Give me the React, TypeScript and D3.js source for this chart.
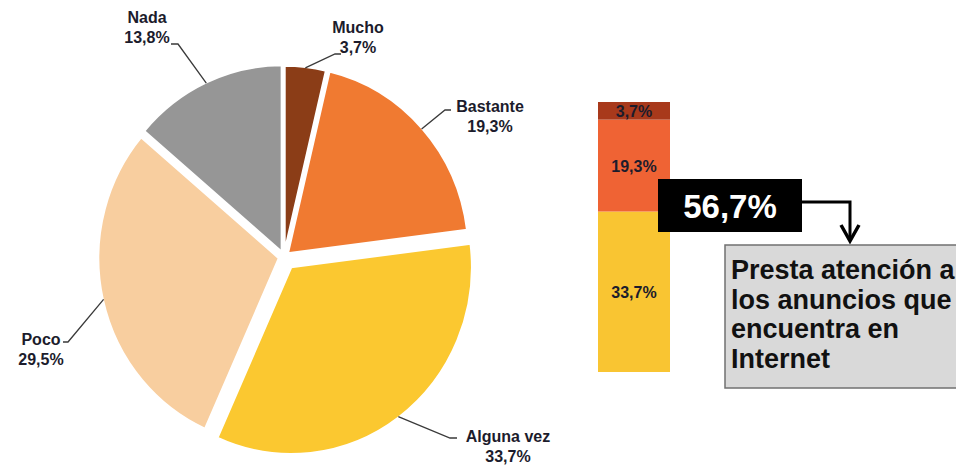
import React from "react";
import * as d3 from "d3";

const categories = ["Mucho", "Bastante", "Alguna vez", "Poco", "Nada"];
const values = [3.7, 19.3, 33.7, 29.5, 13.8];
const valueLabels = ["3,7%", "19,3%", "33,7%", "29,5%", "13,8%"];
const pieColors = ["#8B3D17", "#F07A31", "#FBC830", "#F8CE9F", "#969696"];

const barCategories = ["Alguna vez", "Bastante", "Mucho"];
const barValues = [33.7, 19.3, 3.7];
const barLabels = ["33,7%", "19,3%", "3,7%"];
const barColors = ["#F9C532", "#EF6334", "#A8391B"];
const totalLabel = "56,7%";
const calloutLines = ["Presta atención a", "los anuncios que", "encuentra en", "Internet"];

// layout
const W = 956, H = 465;
const cx = 284, cy = 257, R = 181, SY = 1.035;
const explode = [4, 5, 12, 5, 5];
const labelPos = [
  { x: 358, y: 33, elbow: [335, 54], end: [341, 54] },
  { x: 490, y: 112, elbow: [445, 110], end: [451, 110] },
  { x: 508, y: 442, elbow: [450, 438], end: [457, 438] },
  { x: 41, y: 345, elbow: [68, 342], end: [63, 342] },
  { x: 147, y: 23, elbow: [178, 44], end: [171, 44] },
];
const textColor = "#1c1c2c";
const font = "'Liberation Sans', Arial, sans-serif";

export default function App() {
  const pie = d3.pie<number>().sort(null).value((d) => d)(values);
  const arc = d3.arc<d3.PieArcDatum<number>>().innerRadius(0).outerRadius(R);

  const y = d3.scaleLinear().domain([0, d3.sum(barValues)]).range([372, 102]);
  const cum = barValues.map((_, i) => d3.sum(barValues.slice(0, i)));
  const barX = 598, barW = 72;

  return (
    <svg width={W} height={H} style={{ position: "absolute", left: 0, top: 0, background: "#fff" }} fontFamily={font}>
      <g transform={`translate(${cx},${cy}) scale(1,${SY})`}>
        {pie.map((p, i) => {
          const mid = (p.startAngle + p.endAngle) / 2;
          const dx = Math.sin(mid) * explode[i];
          const dy = -Math.cos(mid) * explode[i];
          return (
            <path key={categories[i]} d={arc(p) || ""} transform={`translate(${dx},${dy})`} fill={pieColors[i]} stroke="#fff" strokeWidth={2.5} />
          );
        })}
      </g>
      {pie.map((p, i) => {
        const mid = (p.startAngle + p.endAngle) / 2;
        const rr = R + explode[i] - 1;
        const sx = cx + Math.sin(mid) * rr;
        const sy = cy - Math.cos(mid) * rr * SY;
        const lp = labelPos[i];
        return (
          <g key={"l" + i}>
            <polyline points={`${sx},${sy} ${lp.elbow[0]},${lp.elbow[1]} ${lp.end[0]},${lp.end[1]}`} fill="none" stroke="#3a3a3a" strokeWidth={1.3} />
            <text x={lp.x} y={lp.y} textAnchor="middle" fontWeight="bold" fontSize={16} fill={textColor}>{categories[i]}</text>
            <text x={lp.x} y={lp.y + 20} textAnchor="middle" fontWeight="bold" fontSize={16} fill={textColor}>{valueLabels[i]}</text>
          </g>
        );
      })}

      {barValues.map((v, i) => {
        const y0 = y(cum[i]);
        const y1 = y(cum[i] + v);
        return (
          <g key={barCategories[i]}>
            <rect x={barX} y={y1} width={barW} height={y0 - y1} fill={barColors[i]} />
            <text x={barX + barW / 2} y={(y0 + y1) / 2 + 6} textAnchor="middle" fontWeight="bold" fontSize={16} fill={textColor}>{barLabels[i]}</text>
          </g>
        );
      })}

      <rect x={658} y={179} width={144} height={53} fill="#000" />
      <text x={730} y={218} textAnchor="middle" fontWeight="bold" fontSize={33} fill="#fff">{totalLabel}</text>
      <polyline points="802,202 850,202 850,241" fill="none" stroke="#000" strokeWidth={3} />
      <polyline points="841,225 850,241 859,225" fill="none" stroke="#000" strokeWidth={3.5} strokeLinejoin="miter" />

      <rect x={725} y={245} width={260} height={143} fill="#D9D9D9" stroke="#707070" strokeWidth={1.5} />
      {calloutLines.map((t, i) => (
        <text key={t} x={731} y={279 + i * 29.5} fontWeight="bold" fontSize={27} fill="#111">{t}</text>
      ))}
    </svg>
  );
}
